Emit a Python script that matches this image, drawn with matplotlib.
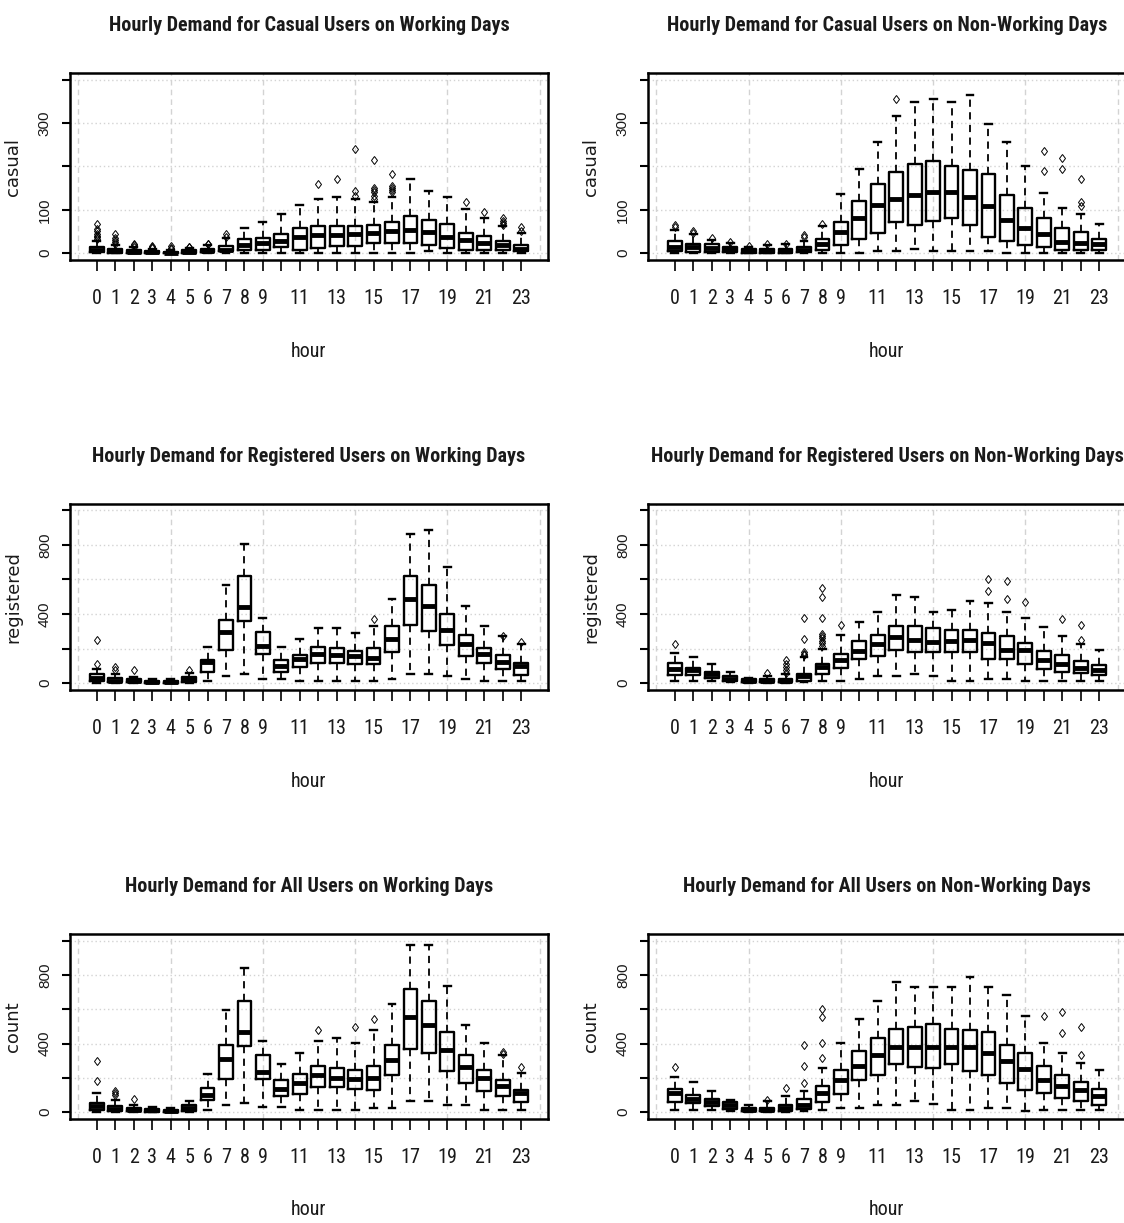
import numpy as np
import matplotlib
matplotlib.use("Agg")
import matplotlib.pyplot as plt

# hours on the x axis
hours = list(range(24))
hour_labels = [str(h) if (h < 10 or h % 2 == 1) else "" for h in hours]

# ---- casual, working days ----
cw_lo  = [0, 0, 0, 0, 0, 0, 0, 0, 0, 0, 0, 0, 0, 0, 0, 0, 0, 0, 5, 0, 0, 0, 0, 0]
cw_q1  = [2, 1, 1, 0, 0, 1, 2, 4, 7, 8, 14, 8, 11, 17, 17, 23, 23, 23, 18, 12, 8, 6, 6, 4]
cw_med = [6, 4, 3, 2, 1, 3, 5, 8, 18, 23, 29, 37, 42, 42, 43, 47, 50, 54, 49, 37, 31, 23, 19, 10]
cw_q3  = [13, 9, 6, 4, 3, 6, 9, 16, 33, 35, 43, 57, 63, 63, 63, 65, 72, 86, 77, 67, 47, 39, 29, 19]
cw_hi  = [28, 19, 13, 9, 7, 12, 18, 34, 57, 72, 90, 111, 126, 130, 126, 117, 130, 172, 143, 130, 101, 82, 62, 46]
cw_out = [[32, 36, 40, 45, 50, 55, 68], [22, 26, 30, 35, 44], [15, 18, 22], [11, 13, 16],
          [9, 12, 17], [13, 14], [20, 22], [38, 44], [], [], [], [], [159], [172],
          [132, 143, 240], [125, 131, 140, 146, 151, 216], [140, 145, 150, 155, 182],
          [], [], [], [117], [94], [66, 70, 75, 80], [52, 60]]

# ---- casual, non-working days ----
cn_lo  = [0, 0, 0, 0, 0, 0, 0, 0, 0, 0, 0, 5, 5, 9, 5, 5, 5, 5, 0, 0, 0, 0, 0, 0]
cn_q1  = [4, 3, 2, 2, 1, 1, 1, 2, 8, 18, 33, 46, 71, 66, 75, 81, 66, 38, 27, 18, 14, 8, 8, 6]
cn_med = [15, 14, 12, 9, 5, 5, 5, 8, 21, 48, 82, 111, 124, 134, 141, 140, 130, 108, 77, 58, 44, 25, 24, 20]
cn_q3  = [29, 21, 20, 15, 9, 10, 10, 15, 33, 72, 121, 159, 187, 206, 212, 202, 192, 182, 134, 105, 82, 58, 48, 33]
cn_hi  = [53, 44, 31, 23, 14, 18, 20, 29, 63, 137, 195, 256, 317, 350, 355, 350, 365, 298, 256, 202, 138, 105, 90, 67]
cn_out = [[60, 66], [46, 50], [34], [25], [16], [20], [22], [36, 42], [68], [], [], [],
          [355], [], [], [], [], [], [], [], [189, 235], [195, 220], [109, 117, 172], []]

# ---- registered, working days ----
rw_lo  = [2, 1, 0, 0, 0, 1, 12, 39, 50, 25, 25, 12, 12, 12, 12, 12, 25, 50, 50, 39, 25, 12, 12, 12]
rw_q1  = [12, 6, 4, 3, 3, 8, 67, 193, 362, 170, 67, 93, 116, 116, 108, 108, 179, 337, 301, 218, 156, 118, 83, 44]
rw_med = [29, 15, 10, 7, 6, 23, 121, 295, 440, 212, 98, 141, 170, 160, 154, 145, 256, 488, 449, 305, 227, 170, 121, 98]
rw_q3  = [54, 29, 21, 15, 15, 35, 135, 368, 623, 295, 131, 160, 208, 202, 183, 202, 328, 623, 569, 401, 281, 202, 160, 116]
rw_hi  = [83, 54, 35, 25, 23, 58, 208, 569, 806, 378, 208, 253, 318, 318, 291, 328, 488, 864, 887, 671, 445, 328, 272, 227]
rw_out = [[112, 247], [73, 93], [73], [], [], [73], [], [], [], [], [], [], [], [], [],
          [372], [], [], [], [], [], [], [275], [237]]

# ---- registered, non-working days ----
rn_lo  = [12, 12, 12, 4, 2, 2, 2, 4, 12, 12, 25, 39, 39, 50, 39, 12, 12, 25, 25, 12, 12, 12, 12, 12]
rn_q1  = [44, 44, 31, 15, 5, 5, 6, 15, 54, 89, 141, 156, 193, 179, 179, 179, 179, 141, 141, 108, 83, 64, 60, 44]
rn_med = [83, 73, 50, 25, 12, 12, 15, 40, 93, 131, 185, 224, 266, 251, 237, 243, 251, 231, 193, 193, 131, 112, 89, 73]
rn_q3  = [116, 87, 64, 39, 21, 23, 25, 54, 112, 170, 243, 281, 328, 328, 318, 305, 305, 291, 270, 233, 183, 160, 127, 106]
rn_hi  = [174, 150, 112, 64, 29, 40, 50, 150, 200, 280, 353, 411, 511, 497, 411, 426, 478, 465, 411, 376, 324, 272, 227, 189]
rn_out = [[224], [], [], [], [], [58], [60, 75, 93, 110, 131], [160, 170, 180, 256, 376],
          [215, 230, 245, 260, 275, 285, 376, 497, 550], [334], [], [], [], [], [], [], [],
          [536, 603], [488, 594], [468], [], [372], [247, 334], []]

# ---- count, working days ----
tw_lo  = [2, 1, 0, 0, 0, 1, 12, 44, 54, 31, 31, 15, 15, 15, 15, 25, 25, 64, 64, 40, 40, 15, 15, 15]
tw_q1  = [12, 6, 4, 3, 3, 6, 69, 195, 386, 193, 96, 108, 147, 147, 135, 131, 214, 368, 343, 243, 170, 121, 96, 58]
tw_med = [35, 21, 12, 10, 8, 25, 102, 308, 468, 237, 137, 170, 218, 199, 193, 199, 305, 555, 507, 362, 266, 199, 150, 112]
tw_q3  = [54, 35, 23, 19, 15, 40, 141, 391, 648, 334, 185, 224, 272, 260, 247, 272, 391, 719, 648, 465, 334, 247, 185, 127]
tw_hi  = [112, 73, 44, 31, 27, 64, 224, 598, 839, 416, 281, 343, 416, 430, 405, 478, 632, 974, 974, 738, 511, 405, 334, 231]
tw_out = [[179, 297], [102, 112, 121], [77], [], [], [], [], [], [], [], [], [], [478], [],
          [497], [542], [], [], [], [], [], [], [340, 350], [266]]

# ---- count, non-working days ----
tn_lo  = [12, 12, 12, 6, 3, 3, 3, 6, 12, 25, 25, 39, 39, 64, 50, 12, 12, 25, 25, 6, 12, 12, 12, 12]
tn_q1  = [58, 54, 35, 19, 6, 6, 6, 19, 58, 108, 189, 218, 280, 266, 256, 280, 243, 218, 170, 131, 112, 83, 67, 44]
tn_med = [112, 79, 58, 40, 12, 12, 25, 44, 112, 189, 272, 334, 378, 378, 378, 378, 378, 343, 299, 253, 189, 150, 131, 93]
tn_q3  = [137, 102, 77, 58, 25, 25, 44, 79, 150, 247, 357, 430, 488, 497, 513, 488, 478, 465, 391, 343, 270, 214, 174, 135]
tn_hi  = [208, 174, 121, 73, 39, 64, 96, 121, 256, 405, 546, 646, 758, 729, 729, 729, 790, 729, 681, 561, 405, 343, 285, 247]
tn_out = [[262], [], [], [], [], [70], [141], [170, 270, 391], [314, 405, 555, 603], [], [], [], [],
          [], [], [], [], [], [], [], [559], [463, 584], [334, 497], []]

titles = ["Hourly Demand for Casual Users on Working Days",
          "Hourly Demand for Casual Users on Non-Working Days",
          "Hourly Demand for Registered Users on Working Days",
          "Hourly Demand for Registered Users on Non-Working Days",
          "Hourly Demand for All Users on Working Days",
          "Hourly Demand for All Users on Non-Working Days"]
ylabels = ["casual", "casual", "registered", "registered", "count", "count"]

panels = [(cw_lo, cw_q1, cw_med, cw_q3, cw_hi, cw_out),
          (cn_lo, cn_q1, cn_med, cn_q3, cn_hi, cn_out),
          (rw_lo, rw_q1, rw_med, rw_q3, rw_hi, rw_out),
          (rn_lo, rn_q1, rn_med, rn_q3, rn_hi, rn_out),
          (tw_lo, tw_q1, tw_med, tw_q3, tw_hi, tw_out),
          (tn_lo, tn_q1, tn_med, tn_q3, tn_hi, tn_out)]

narrow = ["Roboto Condensed", "DejaVu Sans"]
txt_col = "#1a1a1a"
W, H = 1124, 1223
fig = plt.figure(figsize=(W / 100, H / 100), dpi=100)

# axes boxes in pixels: (left, right) and (top, bottom)
col_x = [(70, 548), (648, 1126)]
row_y = [(73, 260), (503.5, 690), (934, 1119)]

for i, (lo, q1, med, q3, hi, out) in enumerate(panels):
    r, c = divmod(i, 2)
    x0, x1 = col_x[c]
    y0, y1 = row_y[r]
    ax = fig.add_axes([x0 / W, 1 - y1 / H, (x1 - x0) / W, (y1 - y0) / H])

    stats = [dict(whislo=lo[k], q1=q1[k], med=med[k], q3=q3[k], whishi=hi[k], fliers=out[k])
             for k in range(24)]
    ax.bxp(stats, positions=hours, widths=0.75, manage_ticks=False,
           boxprops=dict(color="black", lw=1.7),
           whiskerprops=dict(color="black", lw=1.3, linestyle=(0, (4, 3))),
           capprops=dict(color="black", lw=1.7),
           medianprops=dict(color="black", lw=3.5, solid_capstyle="butt"),
           flierprops=dict(marker="d", markersize=4.5, markerfacecolor="none",
                           markeredgecolor="black", markeredgewidth=0.7))

    if r == 0:
        yt = [0, 100, 200, 300, 400]
        ytl = ["0", "100", "", "300", ""]
        ax.set_ylim(-16, 416)
    else:
        yt = [0, 200, 400, 600, 800, 1000]
        ytl = ["0", "", "400", "", "800", ""]
        ax.set_ylim(-40, 1040)
    ax.set_xlim(-1.46, 24.46)

    ax.set_yticks(yt)
    ax.set_yticklabels(ytl, rotation=90, va="center", family="Liberation Sans",
                       fontsize=11, color=txt_col)
    ax.set_xticks(hours)
    ax.set_xticklabels(hour_labels, family=narrow, fontsize=14.5, color=txt_col)
    ax.tick_params(axis="x", direction="out", length=8, width=1.2, pad=13)
    ax.tick_params(axis="y", direction="out", length=6, width=1.5, pad=7)

    # grid: dotted horizontal, dashed vertical
    ax.yaxis.grid(True, color="#d3d3d3", linestyle=(0, (1, 2)), lw=1.0)
    for gx in [-1, 4, 9, 14, 19, 24]:
        ax.axvline(gx, color="#d3d3d3", linestyle=(0, (4, 3)), lw=1.0, zorder=0)
    ax.set_axisbelow(True)

    for s in ax.spines.values():
        s.set_linewidth(1.8)

    ax.set_title(titles[i], family=narrow, fontsize=14.5, fontweight="bold", pad=30, color=txt_col)
    ax.set_ylabel(ylabels[i], family="DejaVu Sans", fontsize=13, color=txt_col)
    ax.yaxis.set_label_coords(-0.100, 0.5)
    ax.set_xlabel("hour", family=narrow, fontsize=14.5, color=txt_col)
    ax.xaxis.set_label_coords(0.5, -0.44)

fig.savefig("out.png", dpi=100)
